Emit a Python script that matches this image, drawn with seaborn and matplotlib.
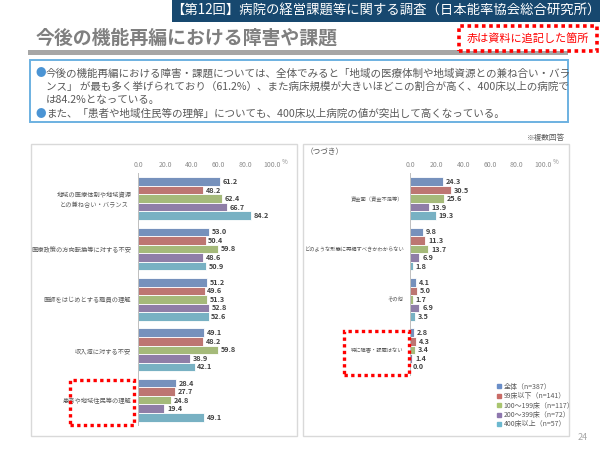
import matplotlib
matplotlib.use("Agg")
import matplotlib.pyplot as plt
from matplotlib.patches import Rectangle
from matplotlib.lines import Line2D
import seaborn as sns
import pandas as pd

sns.set_theme(style="white")
plt.rcParams['font.family'] = ['Noto Sans CJK JP', 'DejaVu Sans']

# ---------------- data ----------------
groups = ["全体（n=387）", "99床以下（n=141）", "100～199床（n=117）",
          "200～399床（n=72）", "400床以上（n=57）"]
colors = ["#6a8ec8", "#c96b66", "#a9c56f", "#8e77ae", "#6cb8cf"]

left_cats = ["地域の医療体制や地域資源\nとの兼ね合い・バランス",
             "医療政策の方向転換等に対する不安",
             "医師をはじめとする職員の理解",
             "収入減に対する不安",
             "患者や地域住民等の理解"]
left_total = [61.2, 53.0, 51.2, 49.1, 28.4]
left_99 = [48.2, 50.4, 49.6, 48.2, 27.7]
left_100 = [62.4, 59.8, 51.3, 59.8, 24.8]
left_200 = [66.7, 48.6, 52.8, 38.9, 19.4]
left_400 = [84.2, 50.9, 52.6, 42.1, 49.1]

right_cats = ["資金面（資金不足等）",
              "どのような形態に再編すべきかわからない",
              "その他",
              "特に障害・課題はない"]
right_total = [24.3, 9.8, 4.1, 2.8]
right_99 = [30.5, 11.3, 5.0, 4.3]
right_100 = [25.6, 13.7, 1.7, 3.4]
right_200 = [13.9, 6.9, 6.9, 1.4]
right_400 = [19.3, 1.8, 3.5, 0.0]

xticks = [0, 20, 40, 60, 80, 100]
xticklabels = ["0.0", "20.0", "40.0", "60.0", "80.0", "100.0"]

header = "【第12回】病院の経営課題等に関する調査（日本能率協会総合研究所）"
title = "今後の機能再編における障害や課題"
note_red = "赤は資料に追記した箇所"
body_lines = [
    "●今後の機能再編における障害・課題については、全体でみると「地域の医療体制や地域資源との兼ね合い・バラ",
    "  ンス」 が最も多く挙げられており（61.2%）、また病床規模が大きいほどこの割合が高く、400床以上の病院で",
    "  は84.2%となっている。",
    "●また、「患者や地域住民等の理解」についても、400床以上病院の値が突出して高くなっている。",
]


def long_df(cats, series):
    rows = []
    for g, vals in zip(groups, series):
        for c, v in zip(cats, vals):
            rows.append({"cat": c, "grp": g, "val": v})
    return pd.DataFrame(rows)


df_left = long_df(left_cats, [left_total, left_99, left_100, left_200, left_400])
df_right = long_df(right_cats, [right_total, right_99, right_100, right_200, right_400])

W, H = 600, 450
fig = plt.figure(figsize=(6, 4.5), dpi=100)
fig.patch.set_facecolor("white")


def fx(px):
    return px / W


def fy(py):
    return 1 - py / H


def frect(x0, y0, x1, y1, zorder=-1, **kw):
    r = Rectangle((fx(x0), fy(y1)), fx(x1) - fx(x0), (y1 - y0) / H,
                  transform=fig.transFigure, zorder=zorder, **kw)
    fig.patches.append(r)
    return r


# header
frect(172, 0, 600, 22, facecolor="#17486f", edgecolor="none")
fig.text(fx(386), fy(11), header, color="white", fontsize=9.6,
         ha="center", va="center")

# title
fig.text(fx(36), fy(38), title, color="#7f7f7f", fontsize=13.6,
         fontweight="bold", ha="left", va="center")
frect(28, 50, 568, 55, facecolor="#a6a6a6", edgecolor="none")

# red note box
frect(459, 26, 597, 51, facecolor="white", edgecolor="#ff0000",
      linewidth=2.6, linestyle=(0, (1.0, 1.0)))
fig.text(fx(528), fy(38.5), note_red, color="#ff0000", fontsize=8.0,
         ha="center", va="center")

# body text box
frect(30, 60, 568, 122, facecolor="white", edgecolor="#6cb1e1", linewidth=1.4)
line_y = [73, 87, 100, 114]
for ly, t in zip(line_y, body_lines):
    if t.startswith("●"):
        fig.text(fx(35), fy(ly), "●", color="#4b94d4", fontsize=7.6,
                 ha="left", va="center")
        fig.text(fx(46), fy(ly), t[1:], color="#595959", fontsize=7.6,
                 ha="left", va="center")
    else:
        fig.text(fx(46), fy(ly), t.strip(), color="#595959", fontsize=7.6,
                 ha="left", va="center")

fig.text(fx(565), fy(138), "※複数回答", color="#595959", fontsize=5.5,
         ha="right", va="center")

# panels
frect(31, 144, 297, 436, facecolor="white", edgecolor="#d9d9d9", linewidth=1.0)
frect(303, 144, 569, 436, facecolor="white", edgecolor="#d9d9d9", linewidth=1.0)
fig.text(fx(306), fy(152), "（つづき）", color="#595959", fontsize=5.5,
         ha="left", va="center")
fig.text(fx(583), fy(437), "24", color="#a6a6a6", fontsize=6.5,
         ha="center", va="center")

group_px = 50.4
top_center = 198.6


def make_axes(x0, x100, ncat):
    top = top_center - group_px / 2
    bot = top_center + (ncat - 1) * group_px + group_px / 2
    ax = fig.add_axes([fx(x0), fy(bot), fx(x100) - fx(x0), (bot - top) / H])
    ax.set_zorder(2)
    return ax


def draw_panel(ax, df, cats, cat_fs):
    sns.barplot(data=df, y="cat", x="val", hue="grp", orient="h",
                palette=colors, hue_order=groups, order=cats, width=0.85,
                edgecolor="white", linewidth=0.6, ax=ax, legend=False,
                errorbar=None)
    for cont in ax.containers:
        ax.bar_label(cont, fmt="%.1f", padding=2, fontsize=5.2,
                     fontweight="bold", color="#404040")
    ax.set_xlim(0, 100)
    n = len(cats)
    ax.set_ylim(n - 0.5, -0.5)
    ax.xaxis.tick_top()
    ax.set_xticks(xticks)
    ax.set_xticklabels(xticklabels)
    ax.tick_params(axis="x", labelsize=5, colors="#8c8c8c", length=0, pad=3.5)
    ax.set_yticks(range(n))
    ax.set_yticklabels(cats)
    ax.tick_params(axis="y", which="major", labelsize=cat_fs,
                   labelcolor="#595959", length=0, pad=5)
    ax.set_yticks([i + 0.5 for i in range(-1, n)], minor=True)
    ax.tick_params(axis="y", which="minor", length=2, color="#bfbfbf", width=0.6)
    for lab in ax.get_yticklabels():
        lab.set_multialignment("center")
    for s in ["top", "right", "bottom"]:
        ax.spines[s].set_visible(False)
    ax.spines["left"].set_color("#bfbfbf")
    ax.spines["left"].set_linewidth(0.7)
    ax.set_xlabel("")
    ax.set_ylabel("")
    ax.set_facecolor("none")
    ax.grid(False)
    ax.annotate("%", xy=(1.0, 1.0), xycoords="axes fraction",
                xytext=(7, 5), textcoords="offset points", fontsize=4.5,
                color="#8c8c8c", ha="left", va="bottom")


axL = make_axes(138.3, 271.8, len(left_cats))
draw_panel(axL, df_left, left_cats, 4.5)
axR = make_axes(410.3, 543.0, len(right_cats))
draw_panel(axR, df_right, right_cats, 3.8)

# highlight dotted boxes
frect(70, 380, 134, 425, zorder=5, facecolor="none", edgecolor="#ff0000",
      linewidth=2.4, linestyle=(0, (1.0, 1.0)))
frect(344, 331, 409, 375, zorder=5, facecolor="none", edgecolor="#ff0000",
      linewidth=2.4, linestyle=(0, (1.0, 1.0)))

# legend
handles = [Line2D([0], [0], marker="s", linestyle="none", markersize=2.5,
                  markerfacecolor=c, markeredgecolor=c) for c in colors]
fig.legend(handles, groups, loc="upper left",
           bbox_to_anchor=(fx(494), fy(380)), frameon=False, fontsize=5,
           handlelength=0.6, handletextpad=0.4, labelspacing=0.2,
           labelcolor="#595959", borderaxespad=0)

fig.savefig("out.png", dpi=100, facecolor="white")
